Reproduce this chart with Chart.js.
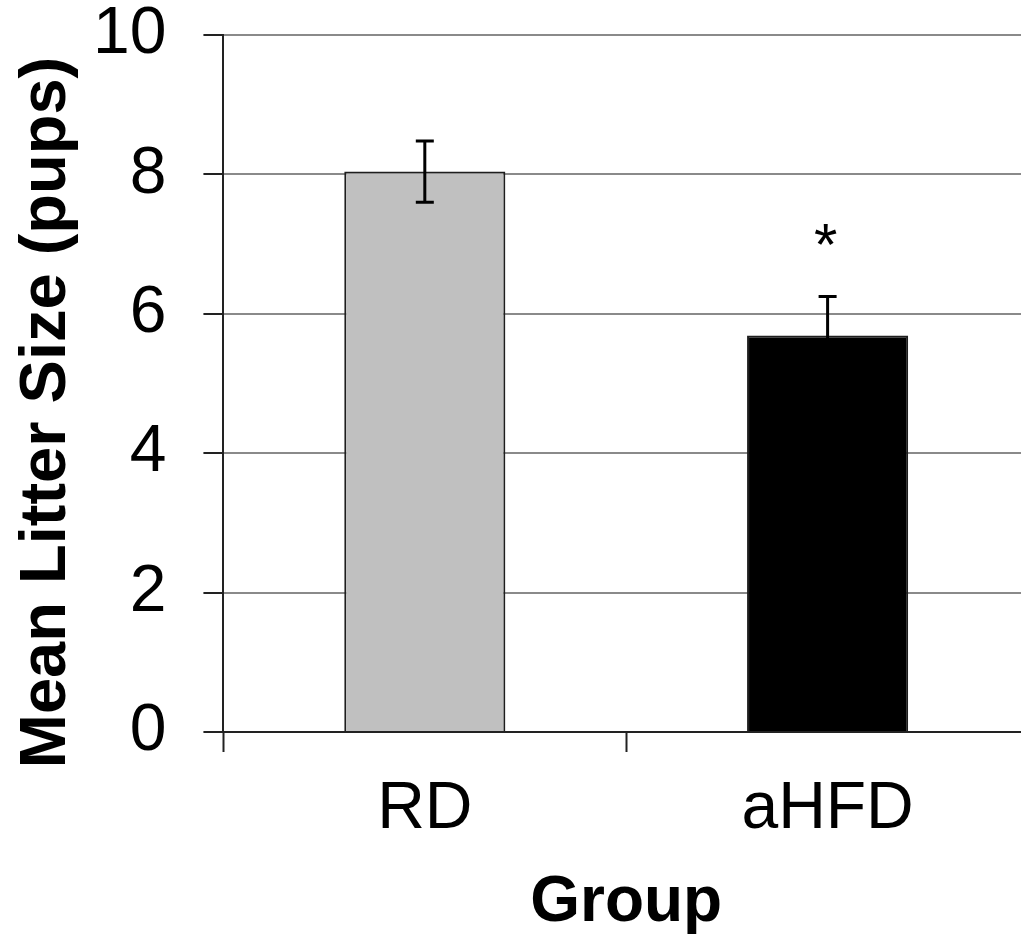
<!DOCTYPE html>
<html>
<head>
<meta charset="utf-8">
<script src="https://cdn.jsdelivr.net/npm/chart.js@4/dist/chart.umd.min.js"></script>
<style>
  html, body { margin: 0; padding: 0; background: #fff; overflow: hidden; }
  #wrap { width: 1021px; height: 938px; overflow: hidden; }
</style>
</head>
<body>
<div id="wrap"><canvas id="chart" width="1040" height="938"></canvas></div>
<script>
// data
var groups = ["RD", "aHFD"];
var meanLitter = [8.04, 5.69];
var semLitter = [0.44, 0.56];
var sigMarks = ["", "*"];
var barColors = ["#c0c0c0", "#000000"];
var yTicks = [0, 2, 4, 6, 8, 10];
var yTitle = "Mean Litter Size (pups)";

var FONT = "'Liberation Sans', Arial, sans-serif";

// error bars + asterisk, drawn from the scales
var errorBarPlugin = {
	id: "errorBars",
	afterDatasetsDraw: function(chart) {
		var ctx = chart.ctx;
		var yScale = chart.scales.y;
		var meta = chart.getDatasetMeta(0);
		ctx.save();
		meta.data.forEach(function(bar, i) {
			var x = bar.x;
			var yTop = yScale.getPixelForValue(meanLitter[i] + semLitter[i]);
			var yBot = yScale.getPixelForValue(meanLitter[i] - semLitter[i]);
			ctx.strokeStyle = "#000";
			ctx.lineWidth = 3;
			ctx.beginPath();
			ctx.moveTo(x, yTop);
			ctx.lineTo(x, yBot);
			ctx.moveTo(x - 9, yTop);
			ctx.lineTo(x + 9, yTop);
			ctx.moveTo(x - 9, yBot);
			ctx.lineTo(x + 9, yBot);
			ctx.stroke();
			if (sigMarks[i]) {
				ctx.fillStyle = "#000";
				ctx.font = "60px " + FONT;
				ctx.textAlign = "center";
				ctx.textBaseline = "alphabetic";
				ctx.fillText(sigMarks[i], x - 2, yTop - 31);
			}
		});
		ctx.restore();
	}
};

// y title sits a bit below the middle of the axis in the original, so draw it by hand
var yTitlePlugin = {
	id: "yTitle",
	afterDraw: function(chart) {
		var ctx = chart.ctx;
		var area = chart.chartArea;
		ctx.save();
		ctx.translate(65, (area.top + area.bottom) / 2 + 29);
		ctx.rotate(-Math.PI / 2);
		ctx.fillStyle = "#000";
		ctx.font = "bold 65px " + FONT;
		ctx.textAlign = "center";
		ctx.textBaseline = "alphabetic";
		ctx.fillText(yTitle, 0, 0);
		ctx.restore();
	}
};

var ctx = document.getElementById("chart").getContext("2d");
var chart = new Chart(ctx, {
	type: "bar",
	data: {
		labels: groups,
		datasets: [{
			data: meanLitter,
			backgroundColor: barColors,
			borderColor: "#1e1e1e",
			borderWidth: 2,
			barPercentage: 0.4,
			categoryPercentage: 1.0
		}]
	},
	options: {
		responsive: false,
		animation: false,
		layout: { padding: { top: 35, right: 11, bottom: -4, left: 56 } },
		plugins: {
			legend: { display: false },
			tooltip: { enabled: false }
		},
		scales: {
			x: {
				offset: true,
				grid: {
					offset: true,
					drawOnChartArea: false,
					drawTicks: true,
					tickLength: 20,
					tickColor: "#222",
					tickWidth: 2
				},
				border: { color: "#222", width: 2 },
				ticks: {
					color: "#000",
					padding: 18,
					font: { family: FONT, size: 66 }
				},
				title: {
					display: true,
					text: "Group",
					color: "#000",
					padding: { top: -2, bottom: 0 },
					font: { family: FONT, size: 64, weight: "bold" }
				}
			},
			y: {
				min: 0,
				max: 10,
				afterBuildTicks: function(scale) {
					scale.ticks = yTicks.map(function(v) { return { value: v }; });
				},
				// tick padding is otherwise added above the top label too
				afterFit: function(scale) {
					scale.paddingTop = 30;
					scale.paddingBottom = 30;
				},
				grid: {
					color: function(c) { return c.tick && c.tick.value === 0 ? "#222" : "#8a8a8a"; },
					lineWidth: 2,
					drawTicks: true,
					tickLength: 20,
					tickColor: "#222",
					tickWidth: 2
				},
				border: { color: "#222", width: 2 },
				ticks: {
					color: "#000",
					padding: 37,
					font: { family: FONT, size: 66, lineHeight: 1 }
				},
				title: { display: false }
			}
		}
	},
	plugins: [errorBarPlugin, yTitlePlugin]
});
</script>
</body>
</html>
